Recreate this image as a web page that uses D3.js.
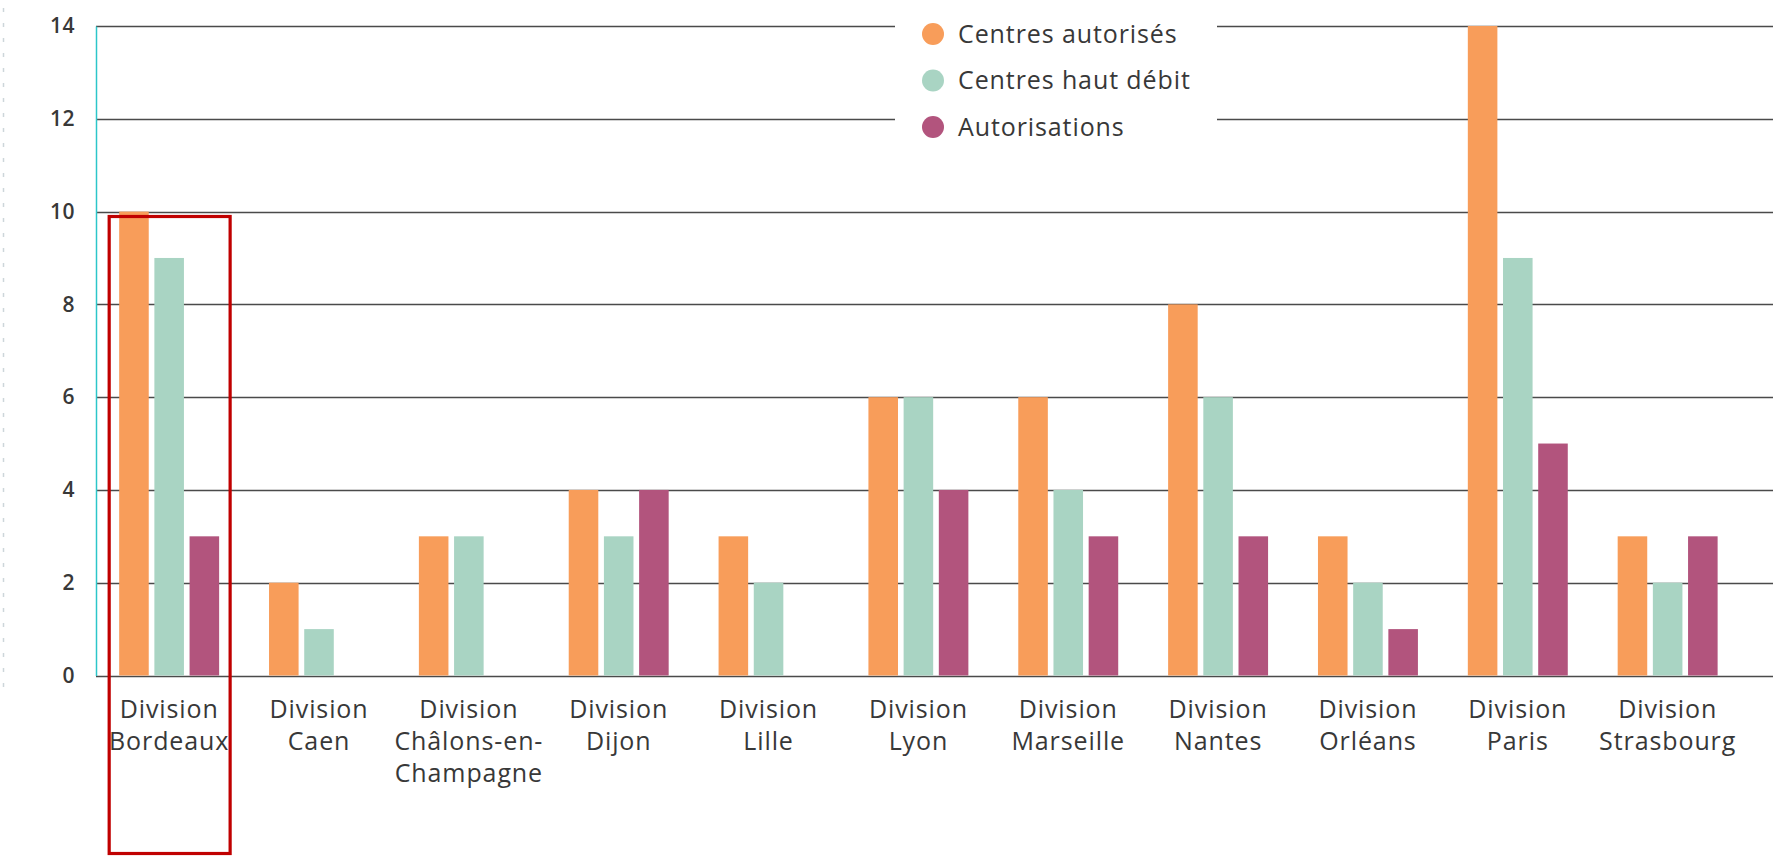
<!DOCTYPE html>
<html>
<head>
<meta charset="utf-8">
<script src="https://cdn.jsdelivr.net/npm/d3@7"></script>
<style>
  html, body { margin: 0; padding: 0; background: #fff; }
  svg { display: block; }
  text { font-family: "Open Sans", "Noto Sans", sans-serif; fill: #383838; }
</style>
</head>
<body>
<svg id="chart" width="1780" height="857"></svg>
<script>
// ---- data ----
const categories = ["Division Bordeaux", "Division Caen", "Division Châlons-en-Champagne", "Division Dijon",
  "Division Lille", "Division Lyon", "Division Marseille", "Division Nantes", "Division Orléans",
  "Division Paris", "Division Strasbourg"];
const categoryLines = [
  ["Division", "Bordeaux"], ["Division", "Caen"], ["Division", "Châlons-en-", "Champagne"],
  ["Division", "Dijon"], ["Division", "Lille"], ["Division", "Lyon"], ["Division", "Marseille"],
  ["Division", "Nantes"], ["Division", "Orléans"], ["Division", "Paris"], ["Division", "Strasbourg"]];
const seriesNames = ["Centres autorisés", "Centres haut débit", "Autorisations"];
const centresAutorises = [10, 2, 3, 4, 3, 6, 6, 8, 3, 14, 3];
const centresHautDebit = [9, 1, 3, 3, 2, 6, 4, 6, 2, 9, 2];
const autorisations    = [3, 0, 0, 4, 0, 4, 3, 3, 1, 5, 3];
const yTicks = [0, 2, 4, 6, 8, 10, 12, 14];
const colors = ["#F89D5A", "#A9D4C3", "#B2547D"];

const seriesValues = [centresAutorises, centresHautDebit, autorisations];
const table = categories.map((c, i) => ({
  cat: c, lines: categoryLines[i],
  values: seriesNames.map((s, k) => ({ key: s, value: seriesValues[k][i] }))
}));

// ---- layout ----
const svg = d3.select("#chart");
const axisX = 96, gridRight = 1773;
const y = d3.scaleLinear().domain([0, 14]).range([675.5, 26]);
const x0 = d3.scaleBand().domain(categories).range([94.2, 1742.6])
  .paddingInner(0.333).paddingOuter(0.1667);
const x1 = d3.scaleBand().domain(seriesNames).range([0, x0.bandwidth()])
  .paddingInner(0.16).paddingOuter(0);
const color = d3.scaleOrdinal().domain(seriesNames).range(colors);

// left dotted line
svg.append("line").attr("x1", 3.5).attr("x2", 3.5).attr("y1", 8).attr("y2", 688)
  .attr("stroke", "#cdd6da").attr("stroke-width", 1.5).attr("stroke-dasharray", "4 11");

// gridlines
svg.append("g").selectAll("line").data(yTicks).join("line")
  .attr("x1", axisX).attr("x2", gridRight)
  .attr("y1", d => Math.round(y(d)) + 0.5).attr("y2", d => Math.round(y(d)) + 0.5)
  .attr("stroke", "#4a4a4a").attr("stroke-width", 1.6);

// y axis (tick labels)
const yAxis = d3.axisLeft(y).tickValues(yTicks).tickSize(0).tickPadding(21);
const gy = svg.append("g").attr("transform", `translate(${axisX},0)`).call(yAxis);
gy.select(".domain").attr("stroke", "#2cc6c9").attr("stroke-width", 1.5);
gy.selectAll(".tick text").attr("font-size", 21).attr("font-weight", 600)
  .attr("letter-spacing", "0.5px")
  .attr("fill", "#3a3a3a").style("font-family", '"Open Sans", sans-serif');

// legend background (breaks gridlines)
svg.append("rect").attr("x", 895).attr("y", 0).attr("width", 322).attr("height", 146).attr("fill", "#fff");

// bars
const groups = svg.append("g").selectAll("g").data(table).join("g")
  .attr("transform", d => `translate(${x0(d.cat)},0)`);
groups.selectAll("rect").data(d => d.values.filter(v => v.value > 0)).join("rect")
  .attr("x", d => x1(d.key)).attr("width", x1.bandwidth())
  .attr("y", d => y(d.value)).attr("height", d => y(0) - y(d.value))
  .attr("fill", d => color(d.key));

// x axis labels
const xAxis = d3.axisBottom(x0).tickSize(0).tickFormat(() => "");
const gx = svg.append("g").attr("transform", `translate(0,${y(0)})`).call(xAxis);
gx.select(".domain").remove();
gx.selectAll(".tick").each(function(d, i) {
  const t = d3.select(this).append("text").attr("text-anchor", "middle")
    .attr("font-size", 25).attr("letter-spacing", "0.9px").attr("fill", "#3a3a3a");
  categoryLines[i].forEach((ln, j) => {
    t.append("tspan").attr("x", 0).attr("y", 42 + j * 32).text(ln);
  });
});

// legend
const lg = svg.append("g").selectAll("g").data(seriesNames).join("g")
  .attr("transform", (d, i) => `translate(933,${34 + i * 46.5})`);
lg.append("circle").attr("r", 11).attr("fill", d => color(d));
lg.append("text").attr("x", 25).attr("dy", "0.35em").attr("font-size", 25)
  .attr("letter-spacing", "0.9px").text(d => d);

// highlight box
const bx = x0(categories[0]);
svg.append("rect").attr("x", bx - 10).attr("y", 216.5).attr("width", x0.bandwidth() + 21).attr("height", 637)
  .attr("fill", "none").attr("stroke", "#C00000").attr("stroke-width", 3.2);
</script>
</body>
</html>
